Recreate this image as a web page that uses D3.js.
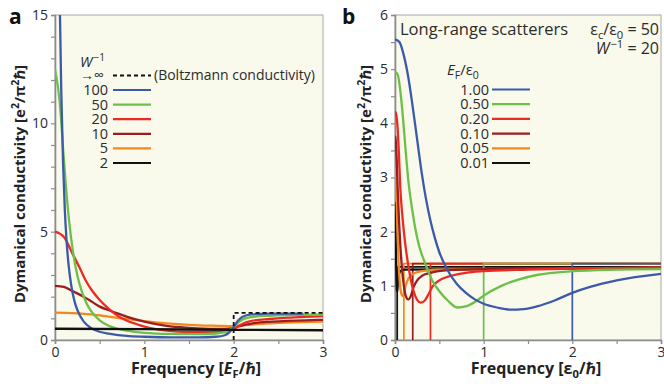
<!DOCTYPE html>
<html><head><meta charset="utf-8">
<script src="https://cdn.jsdelivr.net/npm/d3@7"></script>
<style>
html,body{margin:0;padding:0;background:#fff;}
svg{display:block;font-family:"Open Sans","Noto Sans",sans-serif;}
</style></head>
<body><svg id="chart" width="664" height="384"></svg>
<script>
// ---------- Panel a data: dynamical conductivity vs frequency [E_F/hbar] ----------
const legendA = ["100","50","20","10","5","2"];
const colorsA = ["#3b5aa9","#6cc04a","#ec2a25","#9a1d21","#f5871f","#111111"];
const boltzmann = [[2,0],[2,1.25],[3,1.25]];
const sigW100 = [[0,30],[0.03,23.1],[0.05,16.4],[0.07,11.5],[0.09,8.2],[0.11,6.0],[0.13,4.55],[0.15,3.55],[0.18,2.56],[0.22,1.76],[0.26,1.29],[0.32,0.86],[0.4,0.56],[0.5,0.38],[0.6,0.29],[0.8,0.19],[1.0,0.15],[1.3,0.12],[1.6,0.12],[1.8,0.15],[1.9,0.22],[1.95,0.35],[2.0,0.6],[2.05,0.9],[2.1,1.07],[2.2,1.18],[2.4,1.22],[2.6,1.22],[2.78,1.22]];
const sigW50 = [[0,12.5],[0.05,11.1],[0.1,8.3],[0.13,6.7],[0.16,5.42],[0.2,4.11],[0.25,2.98],[0.3,2.24],[0.35,1.72],[0.4,1.36],[0.5,0.91],[0.6,0.66],[0.7,0.52],[0.85,0.4],[1.0,0.33],[1.3,0.28],[1.6,0.27],[1.8,0.3],[1.9,0.36],[1.95,0.45],[2.0,0.6],[2.05,0.8],[2.1,0.95],[2.2,1.06],[2.4,1.12],[2.6,1.15],[2.8,1.16],[3.0,1.17]];
const sigW20 = [[0,5],[0.1,4.75],[0.2,3.95],[0.28,3.3],[0.35,2.7],[0.42,2.25],[0.5,1.85],[0.6,1.45],[0.69,1.15],[0.8,0.9],[0.9,0.75],[1.0,0.62],[1.25,0.43],[1.5,0.37],[1.8,0.37],[1.9,0.41],[2.0,0.52],[2.1,0.75],[2.2,0.88],[2.4,0.97],[2.6,1.03],[2.8,1.07],[3.0,1.1]];
const sigW10 = [[0,2.5],[0.1,2.45],[0.2,2.25],[0.32,2.0],[0.4,1.8],[0.5,1.54],[0.6,1.38],[0.69,1.24],[0.8,1.08],[1.0,0.85],[1.25,0.65],[1.5,0.56],[1.8,0.51],[1.9,0.51],[2.0,0.56],[2.1,0.68],[2.2,0.76],[2.4,0.84],[2.6,0.88],[2.8,0.91],[3.0,0.93]];
const sigW5 = [[0,1.26],[0.2,1.24],[0.4,1.18],[0.6,1.08],[0.8,0.97],[1.0,0.87],[1.25,0.77],[1.5,0.7],[1.75,0.66],[2.0,0.64],[2.1,0.68],[2.3,0.74],[2.6,0.8],[3.0,0.85]];
const sigW2 = [[0,0.52],[1,0.5],[2,0.47],[3,0.45]];
const seriesA = [sigW100, sigW50, sigW20, sigW10, sigW5, sigW2];

// ---------- Panel b data: long-range scatterers, frequency [eps0/hbar] ----------
const legendB = ["1.00","0.50","0.20","0.10","0.05","0.01"];
const colorsB = ["#3b5aa9","#6cc04a","#ec2a25","#9a1d21","#f5871f","#111111"];
const edgeB = [2.0, 1.0, 0.4, 0.2, 0.1, 0.025];
const stepB = [1.41, 1.41, 1.41, 1.41, 1.41, 1.35];
const sigEF100 = [[0,5.55],[0.05,5.5],[0.1,5.25],[0.15,4.85],[0.2,4.3],[0.25,3.7],[0.3,3.1],[0.35,2.6],[0.4,2.2],[0.45,1.88],[0.5,1.62],[0.6,1.27],[0.7,1.03],[0.8,0.87],[0.9,0.75],[1.0,0.67],[1.15,0.6],[1.3,0.56],[1.45,0.57],[1.6,0.62],[1.8,0.73],[2.0,0.87],[2.2,0.98],[2.5,1.1],[3.0,1.22]];
const sigEF050 = [[0,4.95],[0.03,4.9],[0.06,4.6],[0.09,4.1],[0.12,3.5],[0.15,2.95],[0.19,2.45],[0.23,2.05],[0.27,1.75],[0.32,1.5],[0.36,1.33],[0.42,1.1],[0.5,0.9],[0.6,0.72],[0.7,0.6],[0.8,0.62],[0.9,0.7],[1.0,0.82],[1.2,1.0],[1.4,1.12],[1.6,1.2],[2.0,1.27],[2.5,1.3],[3.0,1.31]];
const sigEF020 = [[0,4.22],[0.015,4.15],[0.03,3.9],[0.045,3.4],[0.06,2.8],[0.08,2.35],[0.1,2.0],[0.125,1.65],[0.15,1.38],[0.18,1.1],[0.21,0.9],[0.25,0.74],[0.29,0.69],[0.33,0.72],[0.38,0.85],[0.42,0.98],[0.5,1.1],[0.6,1.17],[0.8,1.24],[1.0,1.27],[1.5,1.3],[2.0,1.32],[3.0,1.34]];
const sigEF010 = [[0,3.77],[0.01,3.65],[0.02,3.3],[0.03,2.8],[0.045,2.2],[0.06,1.75],[0.08,1.3],[0.1,1.0],[0.12,0.82],[0.15,0.75],[0.18,0.82],[0.21,0.98],[0.25,1.1],[0.3,1.18],[0.4,1.24],[0.6,1.29],[1.0,1.31],[3.0,1.33]];
const sigEF005 = [[0,3.35],[0.005,3.3],[0.01,3.1],[0.02,2.5],[0.03,1.9],[0.04,1.45],[0.05,1.15],[0.06,0.96],[0.075,0.84],[0.09,0.81],[0.105,0.88],[0.12,1.0],[0.15,1.13],[0.2,1.22],[0.3,1.27],[0.5,1.3],[3.0,1.33]];
const sigEF001 = [[0,2.55],[0.004,2.4],[0.008,2.0],[0.012,1.5],[0.016,1.15],[0.02,0.95],[0.025,0.9],[0.03,1.0],[0.04,1.18],[0.06,1.27],[0.1,1.3],[3.0,1.33]];
const seriesB = [sigEF100, sigEF050, sigEF020, sigEF010, sigEF005, sigEF001];

const xTicksMajor = [0,1,2,3];
const xTicksMinor = [0.5,1.5,2.5];
const yTicksA = [0,5,10,15];
const yTicksAminor = [1,2,3,4,6,7,8,9,11,12,13,14];
const yTicksB = [0,1,2,3,4,5,6];
const yTicksBminor = [0.5,1.5,2.5,3.5,4.5,5.5];

// ---------- drawing ----------
const svg = d3.select("#chart");
const BG = "#f9f9ec", AX = "#8c8c8c", TXT = "#2b2b2b";

function panel(opts){
  const {x, y, id} = opts;
  const [x0,x1] = x.range(), [y0,y1] = y.range();
  const g = svg.append("g");
  g.append("rect").attr("x",x0).attr("y",y1).attr("width",x1-x0).attr("height",y0-y1)
    .attr("fill",BG).attr("stroke","#a8a8a8").attr("stroke-width",1);
  svg.append("clipPath").attr("id",id).append("rect")
    .attr("x",x0).attr("y",y1).attr("width",x1-x0).attr("height",y0-y1);
  const fs = "14px";
  g.append("g").attr("transform",`translate(0,${y0})`)
    .call(d3.axisBottom(x).tickValues(xTicksMajor).tickFormat(d3.format("d")).tickSize(4).tickPadding(3));
  g.append("g").attr("transform",`translate(0,${y0})`)
    .call(d3.axisBottom(x).tickValues(xTicksMinor).tickFormat("").tickSize(4)).select(".domain").remove();
  g.append("g").attr("transform",`translate(${x0},0)`)
    .call(d3.axisLeft(y).tickValues(opts.yMajor).tickFormat(d3.format("d")).tickSize(4).tickPadding(3));
  g.append("g").attr("transform",`translate(${x0},0)`)
    .call(d3.axisLeft(y).tickValues(opts.yMinor).tickFormat("").tickSize(4)).select(".domain").remove();
  g.selectAll(".domain").attr("stroke",AX).attr("stroke-width",1.6);
  g.selectAll(".tick line").attr("stroke",AX).attr("stroke-width",1.2);
  g.selectAll(".tick text").attr("fill",TXT).style("font-size",fs).style("font-family","Open Sans");
  const plot = g.append("g").attr("clip-path",`url(#${id})`);
  return {g, plot};
}

// Panel a
const xa = d3.scaleLinear([0,3],[55,323]);
const ya = d3.scaleLinear([0,15],[340,15]);
const pa = panel({x:xa, y:ya, id:"clipA", yMajor:yTicksA, yMinor:yTicksAminor});
const lineA = d3.line().x(d=>xa(d[0])).y(d=>ya(d[1])).curve(d3.curveMonotoneX);
const lineAlin = d3.line().x(d=>xa(d[0])).y(d=>ya(d[1]));
const orderA = [4,3,2,1,0,5];
orderA.forEach(i=>{
  pa.plot.append("path").attr("d",lineA(seriesA[i])).attr("fill","none")
    .attr("stroke",colorsA[i]).attr("stroke-width",2.3).attr("stroke-linejoin","round");
});
pa.plot.append("path").attr("d",lineAlin(boltzmann)).attr("fill","none")
  .attr("stroke","#111").attr("stroke-width",1.8).attr("stroke-dasharray","4,3");

// Panel b
const xb = d3.scaleLinear([0,3],[395,661]);
const yb = d3.scaleLinear([0,6],[340,15]);
const pb = panel({x:xb, y:yb, id:"clipB", yMajor:yTicksB, yMinor:yTicksBminor});
const lineB = d3.line().x(d=>xb(d[0])).y(d=>yb(d[1])).curve(d3.curveMonotoneX);
const lineBlin = d3.line().x(d=>xb(d[0])).y(d=>yb(d[1]));
const orderB = [5,4,3,2,1,0];
orderB.forEach(i=>{
  const step = [[edgeB[i],0],[edgeB[i],stepB[i]],[3,stepB[i]]];
  pb.plot.append("path").attr("d",lineBlin(step)).attr("fill","none")
    .attr("stroke",colorsB[i]).attr("stroke-width",1.7);
});
orderB.forEach(i=>{
  pb.plot.append("path").attr("d",lineB(seriesB[i])).attr("fill","none")
    .attr("stroke",colorsB[i]).attr("stroke-width",2.3).attr("stroke-linejoin","round");
});

// ---------- Text ----------
function txt(x,y,s,o={}){
  const size = o.size||14;
  const t = svg.append("text").attr("x",x).attr("y",y).attr("fill",o.fill||TXT)
    .style("font-size",size+"px").style("font-weight",o.weight||"normal")
    .attr("text-anchor",o.anchor||"start");
  if (o.rotate) t.attr("transform",`rotate(${o.rotate},${x},${y})`);
  if (typeof s === "string") { t.text(s); return t; }
  let cur = 0;
  s.forEach(p=>{
    const ts = t.append("tspan").text(p.t);
    let target = 0;
    if (p.sub) { target = size*0.28; ts.style("font-size",(size*0.7)+"px"); }
    if (p.sup) { target = -size*0.38; ts.style("font-size",(size*0.7)+"px"); }
    if (p.it) ts.style("font-style","italic");
    if (target !== cur) { ts.attr("dy", target-cur); cur = target; }
    if (p.dx) ts.attr("dx", p.dx);
  });
  return t;
}
// panel letters
txt(9,24,"a",{size:21,weight:"bold",fill:"#111"});
txt(342,24,"b",{size:21,weight:"bold",fill:"#111"});
// axis titles
const ytitle = [{t:"Dymanical conductivity [e"},{t:"2",sup:1},{t:"/π"},{t:"2",sup:1},{t:"ℏ]"}];
txt(25,184,ytitle,{size:15,weight:"bold",anchor:"middle",rotate:-90,fill:"#222"});
txt(371,184,ytitle,{size:15,weight:"bold",anchor:"middle",rotate:-90,fill:"#222"});
txt(196,374,[{t:"Frequency ["},{t:"E",it:1},{t:"F",sub:1},{t:"/ℏ]"}],{size:16,weight:"bold",anchor:"middle",fill:"#222"});
txt(536,374,[{t:"Frequency [ε"},{t:"0",sub:1},{t:"/ℏ]"}],{size:16,weight:"bold",anchor:"middle",fill:"#222"});

// legend a
txt(80,67,[{t:"W",it:1},{t:"−1",sup:1,dx:1}],{size:14.5});
txt(80,80,"→∞",{size:14});
svg.append("line").attr("x1",113).attr("x2",151).attr("y1",75.5).attr("y2",75.5)
  .attr("stroke","#111").attr("stroke-width",1.8).attr("stroke-dasharray","4,3");
txt(154,80,"(Boltzmann conductivity)",{size:14});
legendA.forEach((s,i)=>{
  const yy = 90 + i*14.6;
  txt(108,yy+5,s,{size:14.5,anchor:"end"});
  svg.append("line").attr("x1",113).attr("x2",151).attr("y1",yy).attr("y2",yy)
    .attr("stroke",colorsA[i]).attr("stroke-width",2.2);
});

// legend b
txt(400,35,"Long-range scatterers",{size:16.5});
txt(659,35,[{t:"ε"},{t:"c",sub:1},{t:"/ε"},{t:"0",sub:1},{t:" = 50"}],{size:16,anchor:"end"});
txt(659,54,[{t:"W",it:1},{t:"−1",sup:1,dx:1},{t:" = 20"}],{size:16,anchor:"end"});
txt(447,75,[{t:"E",it:1},{t:"F",sub:1},{t:"/ε"},{t:"0",sub:1}],{size:15});
legendB.forEach((s,i)=>{
  const yy = 89.5 + i*14.7;
  txt(489,yy+5,s,{size:14.5,anchor:"end"});
  svg.append("line").attr("x1",492).attr("x2",530).attr("y1",yy).attr("y2",yy)
    .attr("stroke",colorsB[i]).attr("stroke-width",2.2);
});
</script></body></html>
